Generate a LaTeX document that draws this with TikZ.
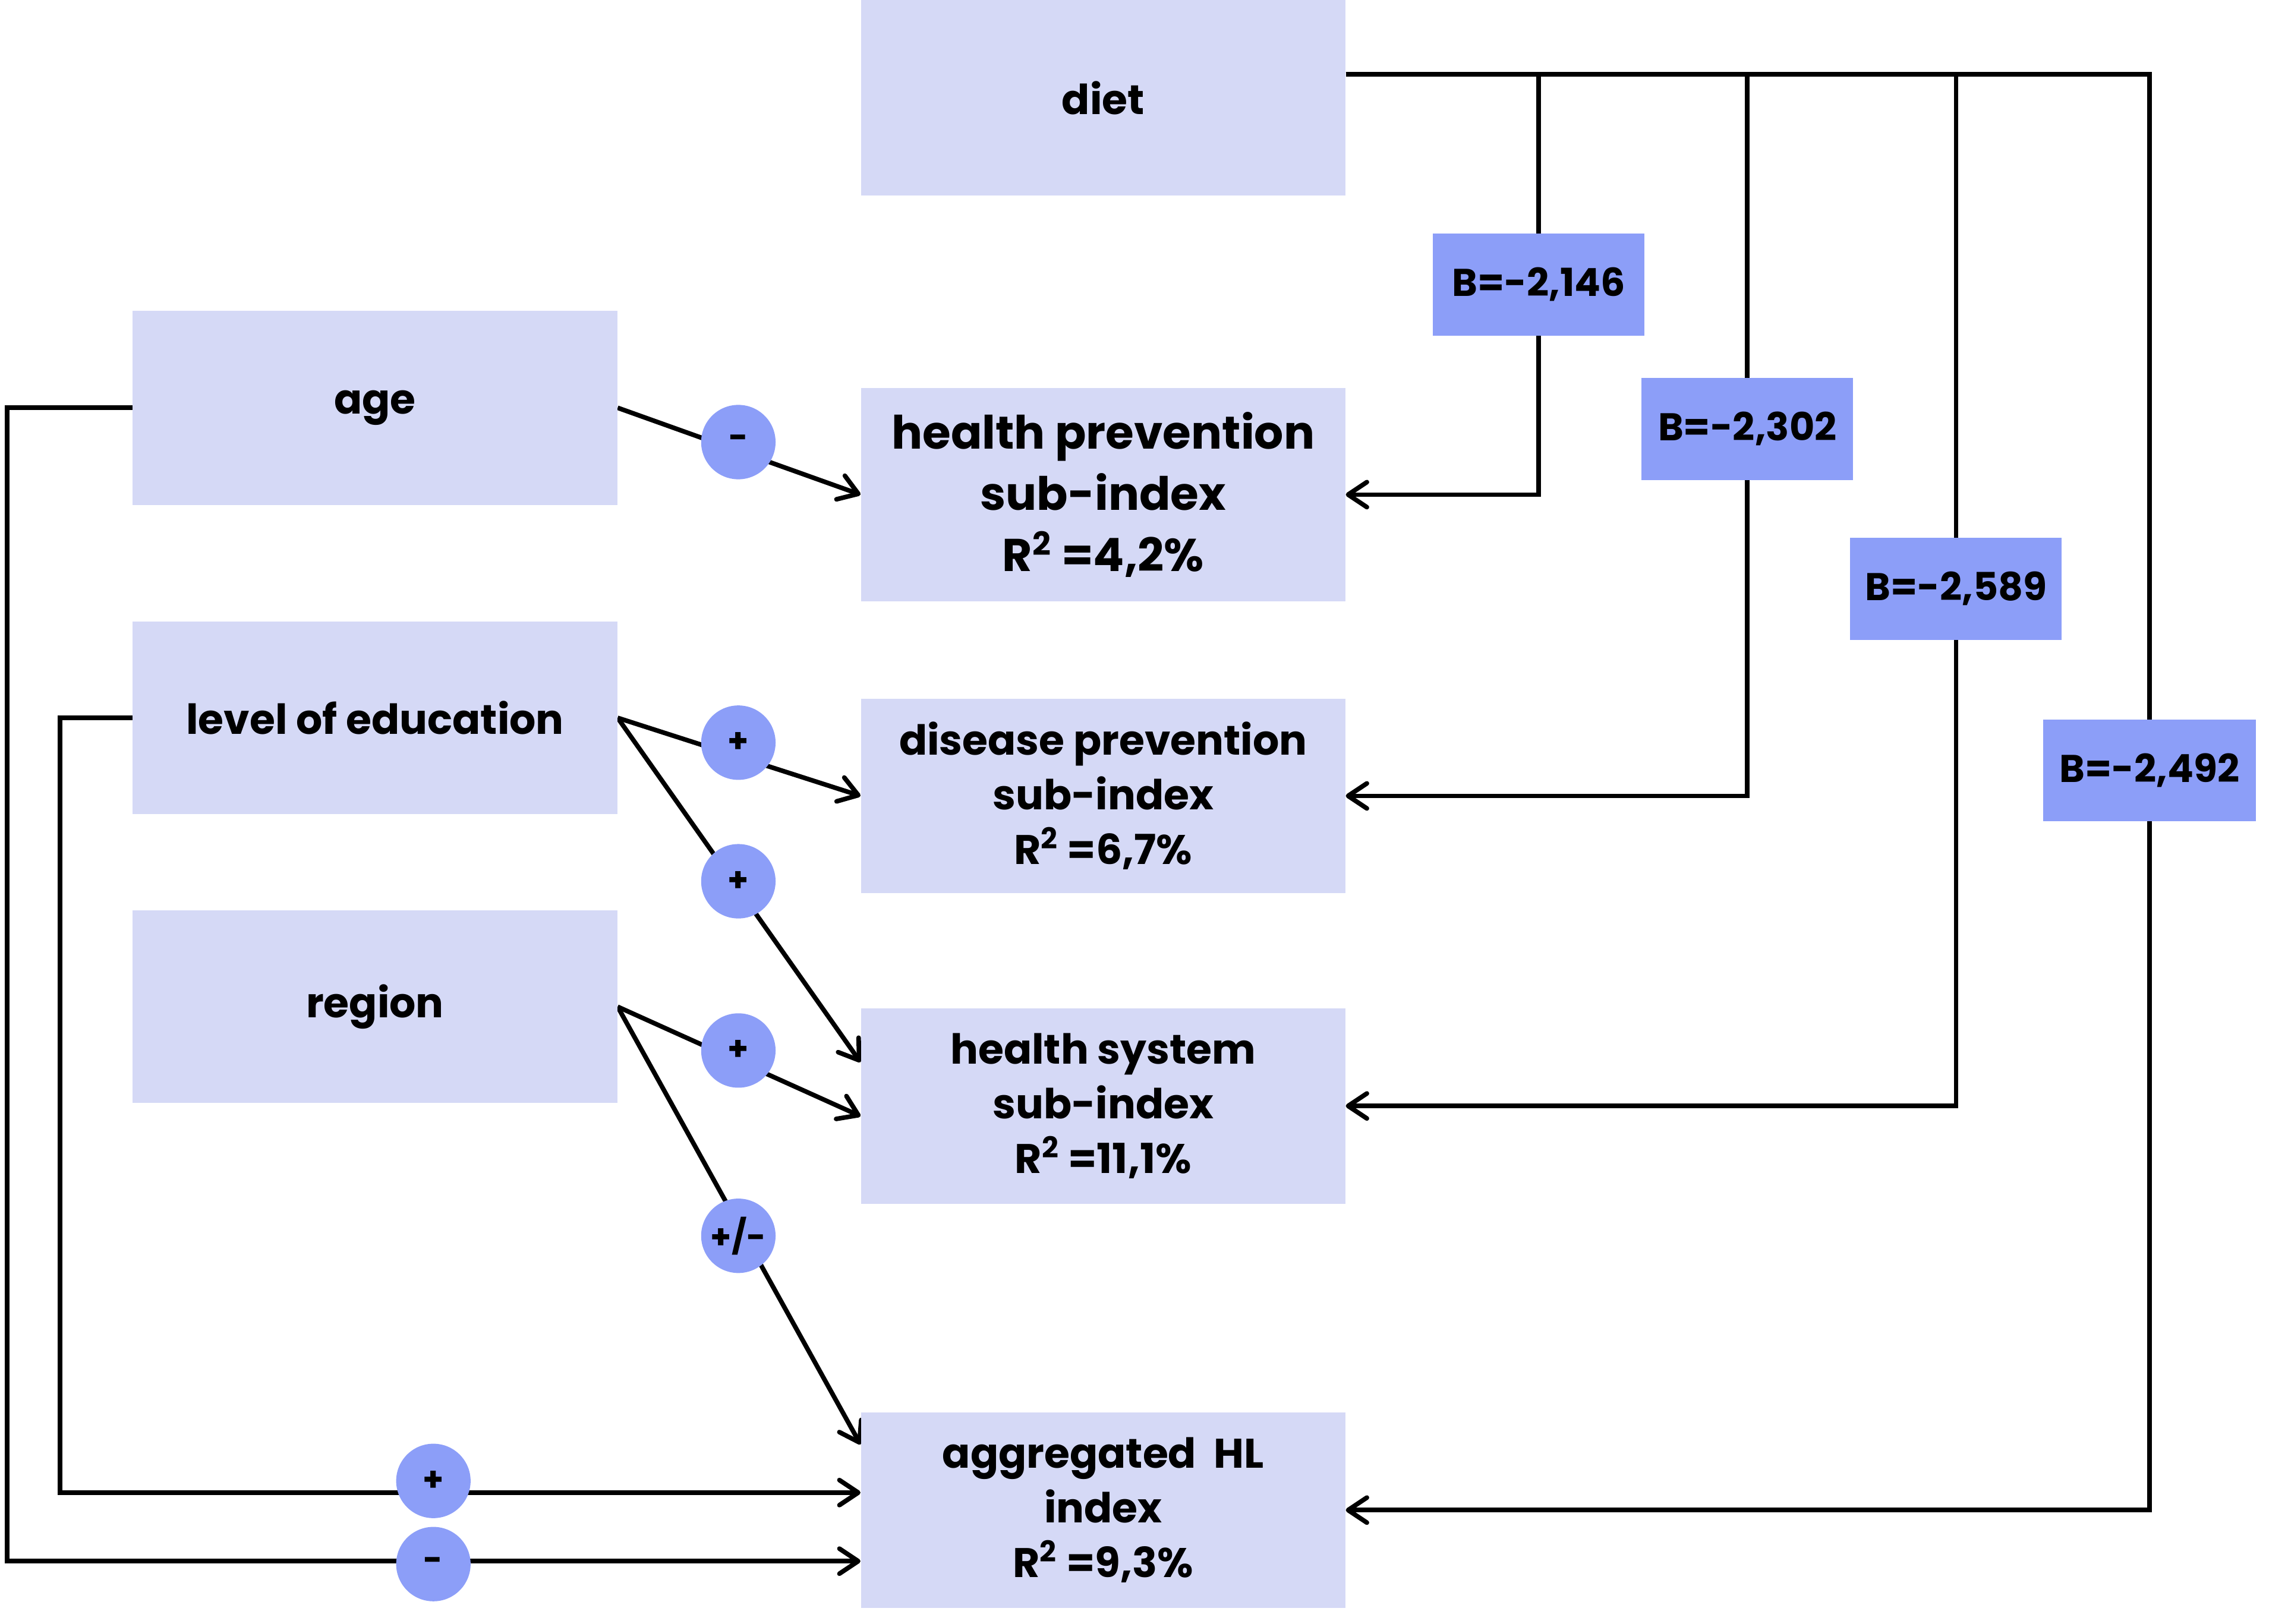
\documentclass[tikz,border=0pt]{standalone}
\usepackage{fontspec}
\setmainfont{Poppins}
\usetikzlibrary{arrows.meta,backgrounds}
\newlength\U \setlength\U{0.024554cm}
\definecolor{boxfill}{RGB}{213,217,246}
\definecolor{accent}{RGB}{140,158,248}
\tikzset{
  box/.style={fill=boxfill, minimum width=332\U, minimum height=133\U, inner sep=0pt, align=center,
    font=\bfseries\fontsize{19.8}{26.2}\selectfont},
  bigbox/.style={box, minimum height=146\U, font=\bfseries\fontsize{22}{29.3}\selectfont},
  bbox/.style={fill=accent, minimum width=145\U, minimum height=70\U, inner sep=0pt,
    font=\bfseries\fontsize{18.5}{22}\selectfont},
  sign/.style={circle, fill=accent, minimum size=51\U, inner sep=0pt,
    font=\bfseries\fontsize{16}{18}\selectfont},
  arr/.style={line width=2.2pt, -{Straight Barb[length=9pt,width=12pt,round]}}
}
\begin{document}
\begin{tikzpicture}[x=0.024554cm, y=-0.024554cm]
\useasboundingbox (0,0) rectangle (1568,1113);
% boxes
\node[box, minimum height=134\U] (diet) at (756,67) {diet};
\node[box] (age) at (257,279.5) {age};
\node[box, minimum height=132\U] (edu) at (257,492) {level of education};
\node[box, minimum height=132\U] (region) at (257,690) {region};
\node[bigbox] (hp) at (756,339) {health prevention\\sub-index\\R\textsuperscript{2} =4,2\%};
\node[box] (dp) at (756,545.5) {disease prevention\\sub-index\\R\textsuperscript{2} =6,7\%};
\node[box, minimum height=134\U] (hs) at (756,758) {health system\\sub-index\\R\textsuperscript{2} =11,1\%};
\node[box, minimum height=134\U] (agg) at (756,1035) {aggregated\ \ HL\\index\\R\textsuperscript{2} =9,3\%};
% B boxes
\node[bbox] (b1) at (1054.5,195) {B=-2,146};
\node[bbox] (b2) at (1197.5,294) {B=-2,302};
\node[bbox] (b3) at (1340.5,403.5) {B=-2,589};
\node[bbox, minimum width=146\U] (b4) at (1473,528) {B=-2,492};
% sign circles
\node[sign] (sAge) at (506,303) {-};
\node[sign] (sE1) at (506,509) {+};
\node[sign] (sE2) at (506,604) {+};
\node[sign] (sR1) at (506,720) {+};
\node[sign] (sR2) at (506,847) {+/-};
\node[sign] (sEL) at (297,1015) {+};
\node[sign] (sAL) at (297,1072) {-};
\coordinate (eduL) at (41,1023);
\coordinate (ageL) at (5,1070);
\begin{scope}[on background layer]
\fill[white] (0,0) rectangle (1568,1113);
\draw[arr] (age.east) -- (hp.west);
\draw[arr] (edu.east) -- (dp.west);
\draw[arr] (edu.east) -- ([yshift=30\U]hs.west);
\draw[arr] (region.east) -- ([yshift=-7\U]hs.west);
\draw[arr] (region.east) -- ([yshift=45\U]agg.west);
\draw[arr] (edu.west) -| (eduL) -- (eduL -| agg.west);
\draw[arr] (age.west) -| (ageL) -- (ageL -| agg.west);
\draw[arr] ([yshift=16\U]diet.east) -| (b1.center) |- (hp.east);
\draw[arr] ([yshift=16\U]diet.east) -| (b2.center) |- (dp.east);
\draw[arr] ([yshift=16\U]diet.east) -| (b3.center) |- (hs.east);
\draw[arr] ([yshift=16\U]diet.east) -| (b4.center) |- (agg.east);
\end{scope}
\end{tikzpicture}
\end{document}
